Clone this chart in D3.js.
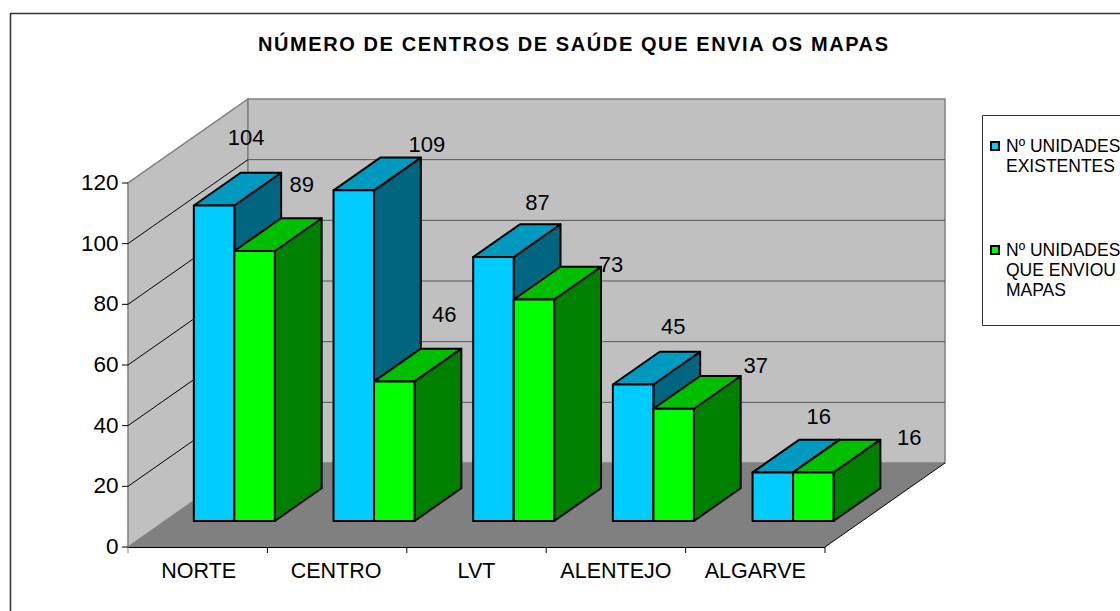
<!DOCTYPE html>
<html><head><meta charset="utf-8">
<script src="https://cdn.jsdelivr.net/npm/d3@7"></script>
<style>html,body{margin:0;padding:0;background:#fff;overflow:hidden}svg{display:block}text{font-family:"Liberation Sans",Arial,sans-serif;fill:#000}</style>
</head><body><svg id="c" width="1120" height="611"></svg>
<script>
const title = "NÚMERO DE CENTROS DE SAÚDE QUE ENVIA OS MAPAS";
const categories = ["NORTE","CENTRO","LVT","ALENTEJO","ALGARVE"];
const existentes = [104,109,87,45,16];
const enviou = [89,46,73,37,16];
const yTicks = [0,20,40,60,80,100,120];
const seriesNames = ["Nº UNIDADES EXISTENTES","Nº UNIDADES QUE ENVIOU MAPAS"];

const svg = d3.select("#c");
const colors = [
  {front:"#00CCFF",top:"#0099BF",side:"#006680"},
  {front:"#00FF00",top:"#00BF00",side:"#008000"}
];
// projection
const x = d3.scaleLinear().domain([0,5]).range([128,825]);
const y = d3.scaleLinear().domain([0,120]).range([547,183]);
const depth = {dx:120, dy:-84};
const P = (cx,v,z)=>[x(cx)+z*depth.dx, y(v)+z*depth.dy];
const line = pts => "M"+pts.map(p=>p.join(",")).join("L")+"Z";
const band = d3.scaleBand().domain(d3.range(5)).range([0,5]).paddingInner(0.42).paddingOuter(0.205);
const sub = d3.scaleBand().domain([0,1]).range([0,band.bandwidth()]);
const zFront = 0.31, zBack = 0.70;

svg.append("path").attr("d","M10.5,612V13.5H1121").attr("fill","none").attr("stroke","#333").attr("stroke-width",1.5);
svg.append("text").attr("x",573).attr("y",51).attr("text-anchor","middle")
  .attr("font-size",20).attr("font-weight","bold").attr("textLength",630).attr("lengthAdjust","spacing").text(title);

// walls
const g = svg.append("g");
g.append("path").attr("d",line([P(0,0,0),P(0,120,0),P(0,120,1),P(0,0,1)])).attr("fill","#C0C0C0").attr("stroke","#808080").attr("stroke-width",1.5);
g.append("path").attr("d",line([P(0,0,1),P(0,120,1),P(5,120,1),P(5,0,1)])).attr("fill","#C0C0C0").attr("stroke","#808080").attr("stroke-width",1.5);
g.append("path").attr("d",line([P(0,0,0),P(0,0,1),P(5,0,1),P(5,0,0)])).attr("fill","#808080");
// gridlines
yTicks.filter(t=>t>0&&t<120).forEach(t=>{
  g.append("line").attr("x1",P(0,t,0)[0]).attr("y1",P(0,t,0)[1]).attr("x2",P(0,t,1)[0]).attr("y2",P(0,t,1)[1]).attr("stroke","#000").attr("stroke-width",1);
  g.append("line").attr("x1",P(0,t,1)[0]).attr("y1",P(0,t,1)[1]).attr("x2",P(5,t,1)[0]).attr("y2",P(5,t,1)[1]).attr("stroke","#555").attr("stroke-width",1);
});
// floor front-right edge and axes
g.append("line").attr("x1",P(5,0,0)[0]).attr("y1",P(5,0,0)[1]).attr("x2",P(5,0,1)[0]).attr("y2",P(5,0,1)[1]).attr("stroke","#000");
g.append("line").attr("x1",x(0)).attr("y1",y(0)+.5).attr("x2",x(5)).attr("y2",y(0)+.5).attr("stroke","#000");
d3.range(6).forEach(i=>g.append("line").attr("x1",x(i)).attr("x2",x(i)).attr("y1",y(0)).attr("y2",y(0)+6).attr("stroke",i?"#000":"#808080"));
yTicks.forEach(t=>{
  g.append("line").attr("x1",x(0)-6).attr("x2",x(0)).attr("y1",y(t)).attr("y2",y(t)).attr("stroke","#000");
  g.append("text").attr("x",x(0)-9.5).attr("y",y(t)+7).attr("text-anchor","end").attr("font-size",22.5).text(t);
});
categories.forEach((c,i)=>{
  svg.append("text").attr("x",x(i+.5)-(i==0?-1:i==1?1:0)).attr("y",578).attr("text-anchor","middle").attr("font-size",21.5).text(c);
});

// bars
const series=[existentes,enviou];
const labelOffsets=[[[-35,-35],[6,-13],[-23,-21],[-27,-25],[-21,-23]],[[-20,-33],[-17,-34],[10,-2],[15,-10],[29,-2]]];
const bars=svg.append("g").attr("stroke","#000").attr("stroke-width",2).attr("stroke-linejoin","round");
const items=[];
categories.forEach((c,i)=>series.forEach((s,k)=>items.push({i,k,v:s[i]})));
items.forEach(d=>{
  const a=band(d.i)+sub(d.k), b=a+sub.bandwidth(), col=colors[d.k];
  bars.append("path").attr("d",line([P(b,0,zFront),P(b,0,zBack),P(b,d.v,zBack),P(b,d.v,zFront)])).attr("fill",col.side);
  bars.append("path").attr("d",line([P(a,d.v,zFront),P(a,d.v,zBack),P(b,d.v,zBack),P(b,d.v,zFront)])).attr("fill",col.top);
  bars.append("path").attr("d",line([P(a,0,zFront),P(a,d.v,zFront),P(b,d.v,zFront),P(b,0,zFront)])).attr("fill",col.front);
});
items.forEach(d=>{
  const a=band(d.i)+sub(d.k), b=a+sub.bandwidth();
  const c=P(b,d.v,zBack), o=labelOffsets[d.k][d.i];
  svg.append("text").attr("x",c[0]+o[0]).attr("y",c[1]+o[1]+7).attr("text-anchor","middle").attr("font-size",22).text(d.v);
});

// legend
svg.append("path").attr("d","M1121,115.5H982.5V325.5H1121").attr("fill","#fff").attr("stroke","#333").attr("stroke-width",1);
const legendLines=[["Nº UNIDADES","EXISTENTES"],["Nº UNIDADES","QUE ENVIOU","MAPAS"]];
const legendTop=[146,250];
legendLines.forEach((ls,k)=>{
  svg.append("rect").attr("x",991).attr("y",legendTop[k]-4).attr("width",8).attr("height",8).attr("fill",colors[k].front).attr("stroke","#000").attr("stroke-width",2);
  ls.forEach((t,j)=>svg.append("text").attr("x",1006).attr("y",legendTop[k]+6+j*20).attr("font-size",17.5).text(t));
});
</script></body></html>
